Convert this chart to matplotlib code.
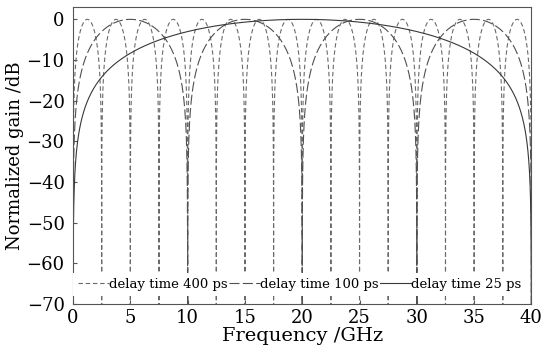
import numpy as np
import matplotlib
matplotlib.use("Agg")
import matplotlib.pyplot as plt

# delay times (ps)
delays = [400, 100, 25]
labels = ["delay time 400 ps", "delay time 100 ps", "delay time 25 ps"]
f_max = 40  # GHz

plt.rcParams['font.family'] = ['DejaVu Serif']

fig = plt.figure(figsize=(5.47, 3.57), dpi=100)
ax = fig.add_axes([0.1335, 0.149, 0.838, 0.831])

f = np.linspace(0, f_max, 16001)
styles = [dict(color="#6a6a6a", ls=(0, (4, 2.5))),
          dict(color="#505050", ls=(0, (9, 3))),
          dict(color="#383838", ls="-")]

for tau, lab, st in zip(delays, labels, styles):
    # two-tap delay line response, normalized
    h = np.abs(np.sin(np.pi * f * tau * 1e-3))
    g = 20 * np.log10(np.maximum(h, 1e-6))
    ax.plot(f, g, lw=0.8, label=lab, **st)

ax.set_xlim(0, 40)
ax.set_ylim(-70, 3)
ax.set_xticks(range(0, 41, 5))
ax.set_yticks(range(-70, 1, 10))
ax.set_yticklabels(["\u221270", "\u221260", "\u221250", "\u221240", "\u221230", "\u221220", "\u221210", "0"])
ax.tick_params(direction="in", labelsize=13, length=3, color="#555555")
ax.tick_params(axis="y", pad=6)
for s in ax.spines.values():
    s.set_color("#555555")
    s.set_linewidth(0.8)

ax.set_xlabel("Frequency /GHz", fontsize=14, labelpad=0)
ax.set_ylabel("Normalized gain /dB", fontsize=13, labelpad=2)

leg = ax.legend(loc="lower left", bbox_to_anchor=(0.0, 0.025),
                ncol=3, fontsize=9.5, frameon=True, fancybox=False, framealpha=1,
                borderaxespad=0, handlelength=2.3, handletextpad=0.05,
                columnspacing=0.1, borderpad=0.4)
leg.get_frame().set_edgecolor("none")
leg.get_frame().set_facecolor("white")

fig.savefig("out.png", dpi=100)
